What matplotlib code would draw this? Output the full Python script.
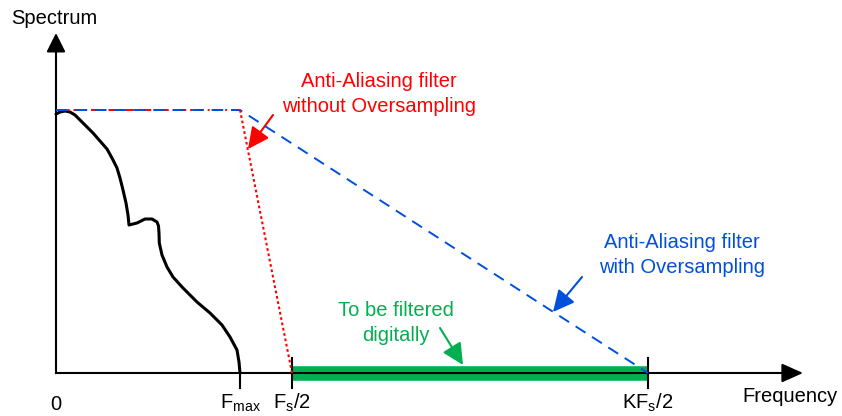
import matplotlib.pyplot as plt

plt.rcParams['font.family'] = ['Liberation Sans', 'DejaVu Sans']
plt.rcParams['mathtext.fontset'] = 'custom'
plt.rcParams['mathtext.rm'] = 'Liberation Sans'
plt.rcParams['mathtext.it'] = 'Liberation Sans'
plt.rcParams['mathtext.default'] = 'regular'

# frequency positions (arbitrary units) and filter pass level
f_max = 184
fs_half = 236
kfs_half = 592
level = 263

tick_pos = [f_max, fs_half, kfs_half]
tick_labels = ['F$_{max}$', 'F$_s$/2', 'KF$_s$/2']

# signal spectrum (traced)
spec_f = [0, 4, 9, 14, 19, 24, 31, 37, 44, 51, 56, 61, 64, 67, 70, 72, 73,
          81, 89, 96, 101, 102.5, 103, 103.3, 106, 111, 117, 127, 141, 154,
          166, 174, 181, 183, 184]
spec_a = [259, 261, 262, 261, 258, 253, 246, 240, 232, 224, 215, 205, 195,
          183, 170, 158, 148, 150, 154, 154, 151, 147, 140, 130, 118, 106,
          96, 85, 71, 60, 48, 36, 23, 11, 0]

# filter responses
flat_f = [0, f_max]
flat_a = [level, level]
red_f = [f_max, fs_half]
red_a = [level, 0]
blue_f = [0, f_max, kfs_half]
blue_a = [level, level, 0]

red = '#FF0000'
blue = '#0050DC'
green = '#00B050'
fs = 14.5

fig = plt.figure(figsize=(8.42, 4.16), dpi=100)
ax = fig.add_axes([0, 0, 1, 1])
ax.set_xlim(-56, 786)
ax.set_ylim(-43, 373)
ax.axis('off')

# band to be filtered digitally
ax.plot([fs_half, kfs_half], [0, 0], color=green, lw=10.5, solid_capstyle='butt', zorder=1)

# axes with arrows
ax.plot([0, 0], [0, 330], color='black', lw=1.5, zorder=3)
ax.plot([0, 740], [0, 0], color='black', lw=1.5, zorder=3)
ax.annotate('', xy=(0, 340), xytext=(0, 320),
            arrowprops=dict(arrowstyle='-|>,head_length=0.58,head_width=0.29',
                            mutation_scale=20, color='black', lw=1.5,
                            shrinkA=0, shrinkB=0))
ax.annotate('', xy=(747, 0), xytext=(725, 0),
            arrowprops=dict(arrowstyle='-|>,head_length=0.65,head_width=0.29',
                            mutation_scale=20, color='black', lw=1.5,
                            shrinkA=0, shrinkB=0))

# ticks
ax.plot([f_max, f_max], [0, -15], color='black', lw=1.5, zorder=3)
for p in tick_pos[1:]:
    ax.plot([p, p], [15, -15], color='black', lw=1.5, zorder=3)

for p, lab in zip(tick_pos, tick_labels):
    ax.text(p, -30, lab, ha='center', va='center', fontsize=fs)
ax.text(0, -31, '0', ha='center', va='center', fontsize=fs)
ax.text(686, -23, 'Frequency', ha='left', va='center', fontsize=fs)
ax.text(-45, 355, 'Spectrum', ha='left', va='center', fontsize=fs)

# spectrum
ax.plot(spec_f, spec_a, color='black', lw=2.2, solid_joinstyle='round',
        solid_capstyle='round', zorder=4)

# filters
ax.plot(flat_f, flat_a, color=red, lw=1.4, linestyle=(0, (4, 2, 1, 2)), zorder=5)
ax.plot(blue_f, blue_a, color=blue, lw=1.4, linestyle=(0, (6, 4)), zorder=6)
ax.plot(red_f, red_a, color=red, lw=1.5, linestyle=(0, (1.3, 1.3)), zorder=7)

# annotations
ax.text(323, 279, 'Anti-Aliasing filter\nwithout Oversampling', color=red,
        ha='center', va='center', fontsize=fs, linespacing=1.38)
ax.annotate('', xy=(192, 224), xytext=(217, 258),
            arrowprops=dict(arrowstyle='-|>,head_length=0.65,head_width=0.32',
                            mutation_scale=20, color=red, lw=1.5,
                            shrinkA=0, shrinkB=0))

ax.text(626, 118, 'Anti-Aliasing filter\nwith Oversampling', color=blue,
        ha='center', va='center', fontsize=fs, linespacing=1.38)
ax.annotate('', xy=(497, 61), xytext=(526, 96),
            arrowprops=dict(arrowstyle='-|>,head_length=0.65,head_width=0.32',
                            mutation_scale=20, color=blue, lw=1.5,
                            shrinkA=0, shrinkB=0))

ax.text(340, 50, 'To be filtered\ndigitally', color=green,
        ha='center', va='center', fontsize=fs, linespacing=1.38)
ax.annotate('', xy=(407, 8), xytext=(384, 45),
            arrowprops=dict(arrowstyle='-|>,head_length=0.65,head_width=0.32',
                            mutation_scale=20, color=green, lw=1.5,
                            shrinkA=0, shrinkB=0))

fig.savefig('out.png', dpi=100)
